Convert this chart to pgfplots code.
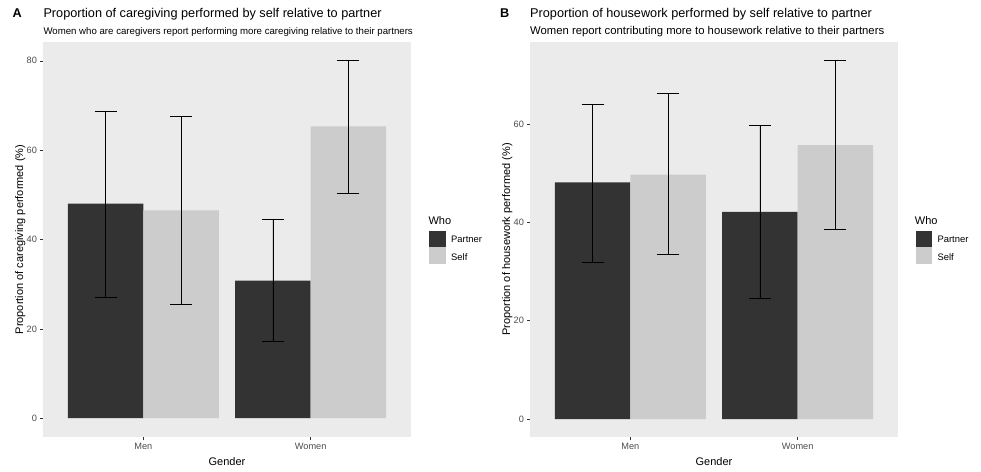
\documentclass[border=0pt]{standalone}
\usepackage{pgfplots}
\pgfplotsset{compat=1.18}
\usepackage{fontspec}
\setmainfont{Liberation Sans}
\definecolor{panelbg}{HTML}{EBEBEB}
\definecolor{partnercol}{HTML}{333333}
\definecolor{selfcol}{HTML}{CCCCCC}
\definecolor{ticklab}{HTML}{4D4D4D}
\definecolor{tickcol}{HTML}{333333}
\pgfplotsset{
  ggbar/.style={
    scale only axis, width=368pt, height=395pt,
    xmin=0.4, xmax=2.6,
    axis background/.style={fill=panelbg},
    axis line style={draw=none},
    xtick={1,2}, xticklabels={Men,Women},
    tick align=outside, major tick length=3pt,
    tick style={tickcol, line width=0.5pt},
    ticklabel style={font=\fontsize{9.2}{10}\selectfont, text=ticklab},
    yticklabel style={xshift=0.5pt},
    /pgf/number format/assume math mode=true,
    ybar, bar width=75.6pt,
    label style={font=\fontsize{11}{13}\selectfont},
    xlabel={Gender},
    xlabel style={at={(axis description cs:0.5,-0.061)}, anchor=center},
    ylabel style={at={(axis description cs:-0.062,0.5)}, anchor=center},
    xtick pos=bottom, ytick pos=left,
    error bars/y dir=both, error bars/y explicit,
    error bars/error bar style={black, line width=0.6pt},
    error bars/error mark options={black, rotate=90, mark size=11pt, line width=0.6pt},
  }
}
\begin{document}
\begin{tikzpicture}[x=1pt,y=1pt]
\useasboundingbox (0,0) rectangle (981,471);
% Panel A
\begin{axis}[ggbar, at={(43pt,34pt)}, anchor=south west,
  ymin=-4.2, ymax=84.2, ytick={0,20,40,60,80},
  ylabel={Proportion of caregiving performed (\%)}]
\addplot[fill=partnercol, draw=none, bar shift=-37.8pt]
  table[x=x, y=y, y error plus=ep, y error minus=em] {
  x y ep em
  1 48.0 20.8 21.0
  2 30.8 13.7 13.5
};
\addplot[fill=selfcol, draw=none, bar shift=37.8pt]
  table[x=x, y=y, y error plus=ep, y error minus=em] {
  x y ep em
  1 46.5 21.1 21.0
  2 65.3 14.9 15.0
};
\end{axis}
% Panel B
\begin{axis}[ggbar, at={(530pt,34pt)}, anchor=south west,
  ymin=-3.65, ymax=76.65, ytick={0,20,40,60},
  ylabel={Proportion of housework performed (\%)}]
\addplot[fill=partnercol, draw=none, bar shift=-37.8pt]
  table[x=x, y=y, y error plus=ep, y error minus=em] {
  x y ep em
  1 48.1 15.9 16.2
  2 42.1 17.6 17.5
};
\addplot[fill=selfcol, draw=none, bar shift=37.8pt]
  table[x=x, y=y, y error plus=ep, y error minus=em] {
  x y ep em
  1 49.7 16.5 16.2
  2 55.7 17.3 17.2
};
\end{axis}
% Titles
\node[anchor=base west, inner sep=0pt, font=\fontsize{12.7}{14}\selectfont\bfseries] at (12.5,453) {A};
\node[anchor=base west, inner sep=0pt, font=\fontsize{12.7}{14}\selectfont] at (43.3,453) {Proportion of caregiving performed by self relative to partner};
\node[anchor=base west, inner sep=0pt, font=\fontsize{9.65}{11}\selectfont] at (43.3,436) {Women who are caregivers report performing more caregiving relative to their partners};
\node[anchor=base west, inner sep=0pt, font=\fontsize{12.7}{14}\selectfont\bfseries] at (500,453) {B};
\node[anchor=base west, inner sep=0pt, font=\fontsize{12.7}{14}\selectfont] at (530,453) {Proportion of housework performed by self relative to partner};
\node[anchor=base west, inner sep=0pt, font=\fontsize{11.3}{13}\selectfont] at (530,436) {Women report contributing more to housework relative to their partners};
% Legends
\foreach \lx in {429.3, 915.7} {
  \node[anchor=base west, inner sep=0pt, font=\fontsize{11}{13}\selectfont] at (\lx-1,246) {Who};
  \fill[partnercol] (\lx,240.3) rectangle ++(16.4,-16.3);
  \fill[selfcol] (\lx,224) rectangle ++(16.4,-17);
  \node[anchor=west, inner sep=0pt, font=\fontsize{9.4}{10}\selectfont] at (\lx+21.7,231.2) {Partner};
  \node[anchor=west, inner sep=0pt, font=\fontsize{9.4}{10}\selectfont] at (\lx+21.7,214.2) {Self};
}
\end{tikzpicture}
\end{document}
